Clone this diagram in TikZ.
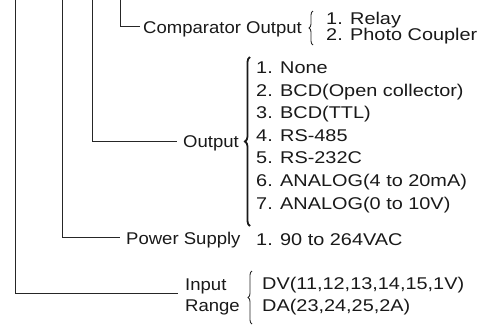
\documentclass[tikz,border=0pt]{standalone}
\usepackage{fontspec}
\setmainfont{Liberation Sans}[FakeStretch=1.17]
\newfontfamily\lblfont{Liberation Sans}[FakeStretch=1.09]
\usetikzlibrary{decorations.pathreplacing}
\begin{document}
\begin{tikzpicture}[x=1pt,y=-1pt,
  every node/.style={inner sep=0pt,font=\fontsize{17}{20}\selectfont,text=black!90},
  lbl/.style={anchor=base west},
  head/.style={anchor=base west,font=\lblfont\fontsize{17}{20}\selectfont},
  conn/.style={line width=0.8pt,draw=black!85},
  bracesmall/.style={decorate,decoration={brace,amplitude=4pt},line width=0.9pt,draw=black!85},
  bracebig/.style={decorate,decoration={brace,amplitude=5pt},line width=1.8pt,draw=black!90}]
\useasboundingbox (0,0) rectangle (480,327);
% top ends of the vertical lines
\coordinate (v1) at (15,0);
\coordinate (v2) at (62,0);
\coordinate (v3) at (92,0);
\coordinate (v4) at (120,0);
% labels
\node[head] (comp) at (143,33) {Comparator Output};
\node[head] (out) at (183,147) {Output};
\node[head] (pow) at (126,244) {Power Supply};
\node[head] (inp) at (185,290) {Input};
\node[head] (rng) at (185,311) {Range};
% options
\node[lbl] (relay) at (326,24) {1. Relay};
\node[lbl] (photo) at (326,40.5) {2. Photo Coupler};
\node[lbl] (o1) at (256,73.5) {1. None};
\node[lbl] (o2) at (256,96.1) {2. BCD(Open collector)};
\node[lbl] (o3) at (256,118.7) {3. BCD(TTL)};
\node[lbl] (o4) at (256,141.3) {4. RS-485};
\node[lbl] (o5) at (256,163.9) {5. RS-232C};
\node[lbl] (o6) at (256,186.5) {6. ANALOG(4 to 20mA)};
\node[lbl] (o7) at (256,209.1) {7. ANALOG(0 to 10V)};
\node[lbl] (ps1) at (256,245) {1. 90 to 264VAC};
\node[lbl] (dv) at (262,289) {DV(11,12,13,14,15,1V)};
\node[lbl] (da) at (262,311) {DA(23,24,25,2A)};
% connectors
\draw[conn] (v4) |- ([xshift=-3pt,yshift=7pt]comp.base west);
\draw[conn] (v3) |- ([xshift=-6pt,yshift=6pt]out.base west);
\draw[conn] (v2) |- ([xshift=-6pt,yshift=7pt]pow.base west);
\draw[conn] (v1) |- ([xshift=-7pt,yshift=-3pt]inp.base west);
% braces
\draw[bracesmall] (313,45) -- (313,11);
\draw[bracebig] (250,226) -- (250,57);
\draw[bracesmall] (252,324) -- (252,271);
\end{tikzpicture}
\end{document}
